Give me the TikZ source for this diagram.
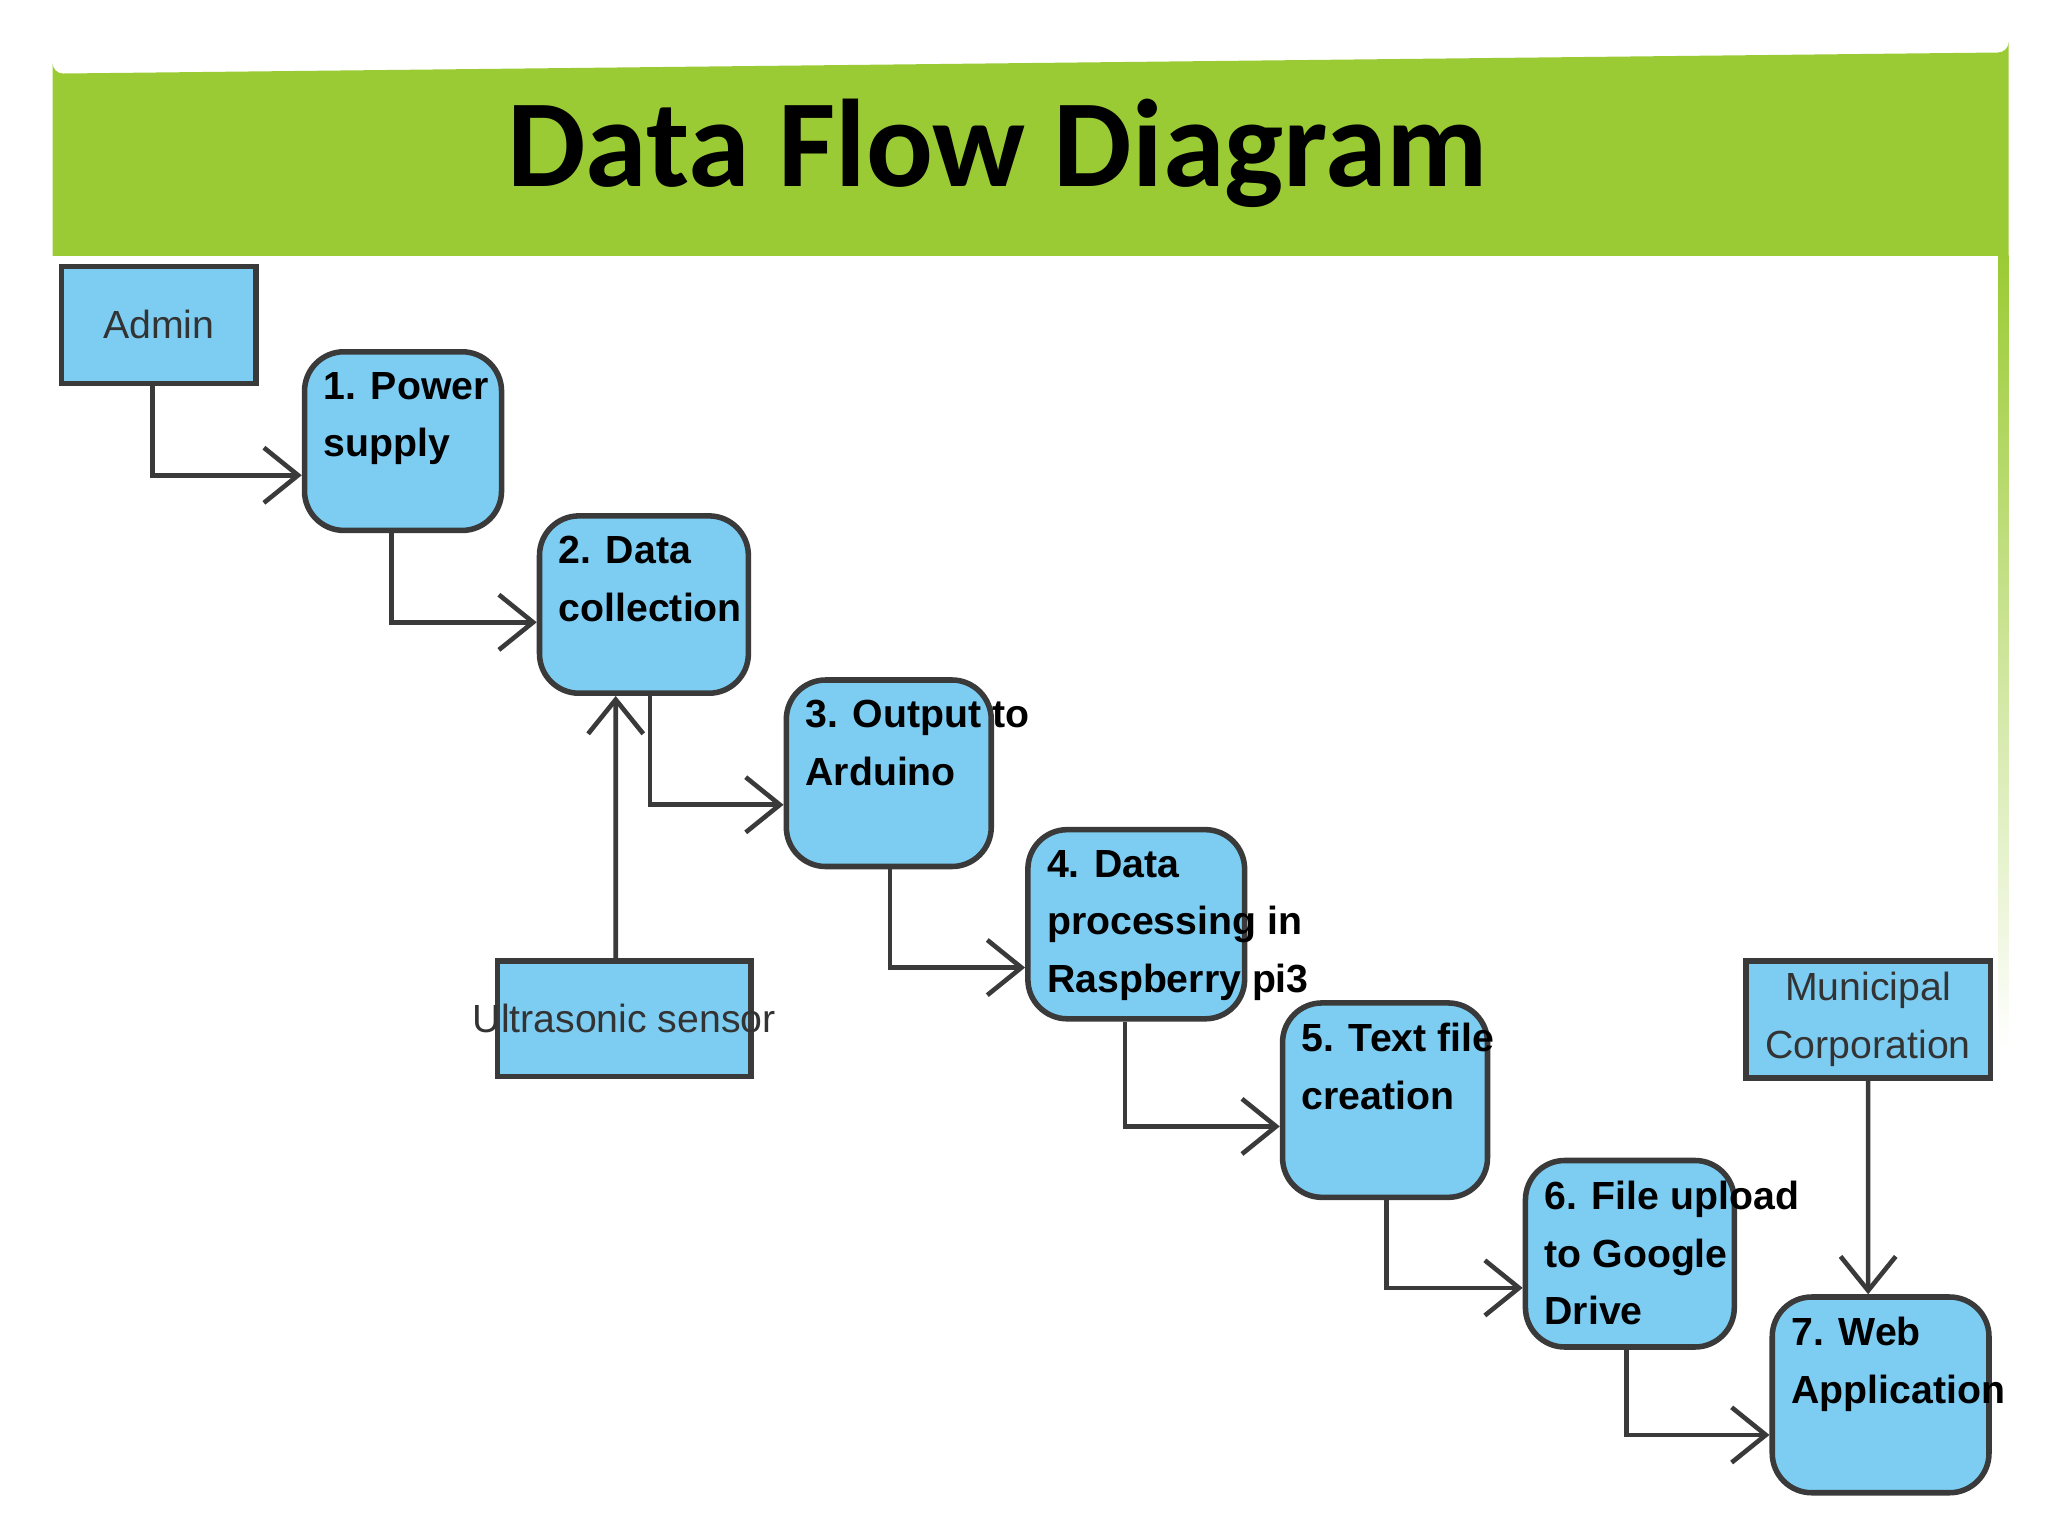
\documentclass[tikz,border=0pt]{standalone}
\usepackage{fontspec}
\setmainfont{Liberation Sans}
\newfontfamily\titlefont{Carlito}
\usetikzlibrary{arrows.meta}
\definecolor{gbar}{HTML}{9BCB34}
\definecolor{boxblue}{HTML}{7DCDF3}
\definecolor{edge}{HTML}{3A3A3A}
\begin{document}
\begin{tikzpicture}[x=0.01cm,y=-0.01cm,
  ent/.style={draw=edge,line width=1.2pt,fill=boxblue,inner sep=0pt},
  proc/.style={ent,rounded corners=0.3cm},
  lab/.style={anchor=north west,align=left,font=\fontsize{8.5pt}{12.5pt}\selectfont\bfseries,inner sep=0pt},
  elab/.style={font=\fontsize{8.5pt}{12.5pt}\selectfont,align=center,text=black!80},
  flow/.style={draw=edge,line width=1pt,-{Straight Barb[length=2.6mm,width=4.2mm,line width=1pt]}}]
\useasboundingbox (0,0) rectangle (1560,1170);
\fill[white] (0,0) rectangle (1560,1170);
\fill[gbar] (40,195) -- (40,48) arc[start angle=180,end angle=90,radius=8] -- (1522,40) arc[start angle=90,end angle=0,radius=8] -- (1530,195) -- cycle;
\shade[top color=gbar,bottom color=white] (1522,195) rectangle (1530,800);
\node[font=\titlefont\fontsize{27pt}{30pt}\selectfont\bfseries] (title) at (760,117) {Data Flow Diagram};
% boxes
\path[ent] (47,203) rectangle (195,292) node[midway,elab] (admin) {Admin};
\node[ent,minimum width=1.48cm,minimum height=0.89cm] (adminb) at (121,247.5) {};
\node[elab] at (adminb) {Admin};
\node[ent,minimum width=1.93cm,minimum height=0.88cm] (us) at (475.5,776) {};
\node[elab] at (us) {Ultrasonic sensor};
\node[ent,minimum width=1.86cm,minimum height=0.89cm] (mc) at (1423,776.5) {};
\node[elab] at (mc) {Municipal\\Corporation};
\node[proc,minimum width=1.50cm,minimum height=1.36cm] (p1) at (307,336) {};
\node[proc,minimum width=1.59cm,minimum height=1.35cm] (p2) at (490.5,460.5) {};
\node[proc,minimum width=1.56cm,minimum height=1.42cm] (p3) at (677,589) {};
\node[proc,minimum width=1.65cm,minimum height=1.44cm] (p4) at (865.5,704) {};
\node[proc,minimum width=1.56cm,minimum height=1.48cm] (p5) at (1055,838) {};
\node[proc,minimum width=1.59cm,minimum height=1.42cm] (p6) at (1241.5,955) {};
\node[proc,minimum width=1.65cm,minimum height=1.49cm] (p7) at (1432.5,1062.5) {};
\node[lab] (t1) at ([xshift=0.16cm,yshift=-0.17cm]p1.north west) {1. Power\\supply};
\node[lab] (t2) at ([xshift=0.16cm,yshift=-0.17cm]p2.north west) {2. Data\\collection};
\node[lab] (t3) at ([xshift=0.16cm,yshift=-0.17cm]p3.north west) {3. Output to\\Arduino};
\node[lab] (t4) at ([xshift=0.16cm,yshift=-0.17cm]p4.north west) {4. Data\\processing in\\Raspberry pi3};
\node[lab] (t5) at ([xshift=0.16cm,yshift=-0.17cm]p5.north west) {5. Text file\\creation};
\node[lab] (t6) at ([xshift=0.16cm,yshift=-0.17cm]p6.north west) {6. File upload\\to Google\\Drive};
\node[lab] (t7) at ([xshift=0.16cm,yshift=-0.17cm]p7.north west) {7. Web\\Application};
% flows
\draw[flow] ([xshift=-0.05cm]adminb.south) |- ([yshift=-0.26cm]p1.west);
\draw[flow] ([xshift=-0.09cm]p1.south) |- ([yshift=-0.135cm]p2.west);
\draw[flow] ([xshift=0.045cm]p2.south) |- ([yshift=-0.24cm]p3.west);
\draw[flow] ([xshift=0.01cm]p3.south) |- ([yshift=-0.33cm]p4.west);
\draw[flow] ([xshift=-0.085cm]p4.south) |- ([yshift=-0.20cm]p5.west);
\draw[flow] ([xshift=0.01cm]p5.south) |- ([yshift=-0.26cm]p6.west);
\draw[flow] ([xshift=-0.025cm]p6.south) |- ([yshift=-0.305cm]p7.west);
\draw[flow] ([xshift=-0.065cm]us.north) -- ([xshift=-0.215cm]p2.south);
\draw[flow] (mc.south) -- ([xshift=-0.095cm]p7.north);
\end{tikzpicture}
\end{document}
